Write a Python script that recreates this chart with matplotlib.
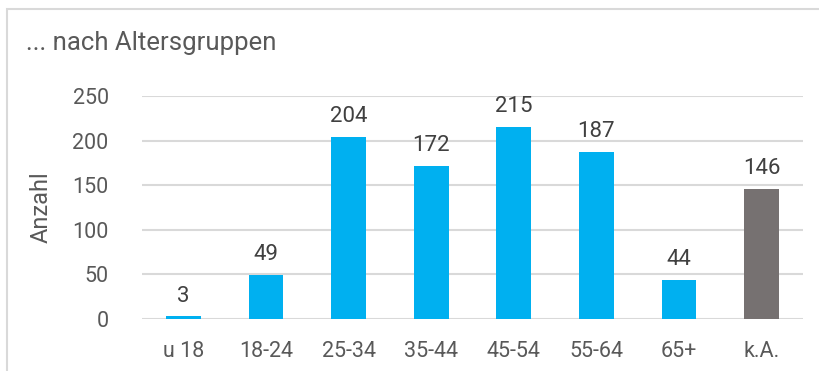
import matplotlib.pyplot as plt
from matplotlib.patches import Rectangle

kategorien = ['u 18', '18-24', '25-34', '35-44', '45-54', '55-64', '65+', 'k.A.']
anzahl = [3, 49, 204, 172, 215, 187, 44, 146]
farben = ['#00B0F0'] * 7 + ['#767171']
yticks = [0, 50, 100, 150, 200, 250]

plt.rcParams['font.family'] = ['Roboto', 'DejaVu Sans']
txt = '#595959'

fig = plt.figure(figsize=(8.2, 3.71), dpi=100)
ax = fig.add_axes([142 / 820, 1 - 319 / 371, 661 / 820, 223 / 371])

x = range(len(kategorien))
bars = ax.bar(x, anzahl, width=0.42, color=farben, zorder=3)
for b, v in zip(bars, anzahl):
    ax.text(b.get_x() + b.get_width() / 2, v + 11, str(v), ha='center', va='bottom',
            fontsize=16, color='#404040')

ax.set_xlim(-0.5, len(kategorien) - 0.5)
ax.set_ylim(0, 250)
ax.set_yticks(yticks)
ax.set_xticks(list(x))
ax.set_xticklabels(kategorien)
ax.tick_params(length=0, labelsize=15.5, colors=txt)
ax.tick_params(axis='y', pad=24)
ax.tick_params(axis='x', pad=16)
ax.grid(axis='y', color='#D9D9D9', linewidth=1.5, zorder=0)
for s in ax.spines.values():
    s.set_visible(False)
ax.set_ylabel('Anzahl', fontsize=17, color=txt, labelpad=14)

fig.text(26 / 820, 1 - 43 / 371, '... nach Altersgruppen', fontsize=18.5, color=txt,
         ha='left', va='center')

# Rahmen oben und links
fig.add_artist(Rectangle((7.5 / 820, -0.1), 1, 1 - 9.5 / 371 + 0.1, transform=fig.transFigure,
                         fill=False, edgecolor='#D9D9D9', linewidth=1.5))

fig.savefig('out.png', dpi=100)
